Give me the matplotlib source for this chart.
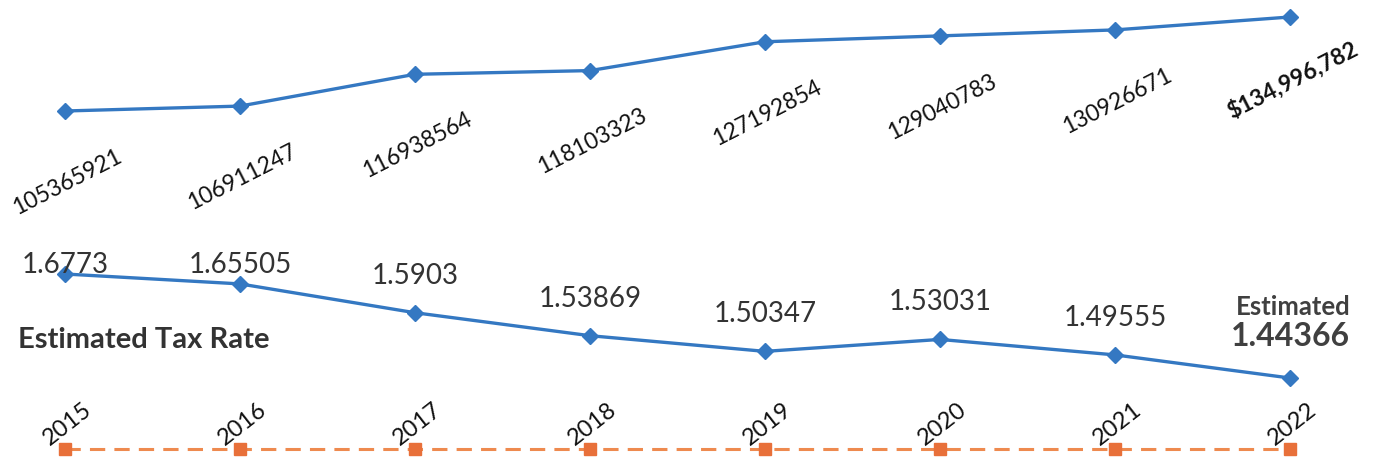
import matplotlib
matplotlib.use('Agg')
import matplotlib.pyplot as plt

plt.rcParams.update({'font.family': ['Lato', 'DejaVu Sans']})

# data
years = [2015, 2016, 2017, 2018, 2019, 2020, 2021, 2022]
assessed = [105365921, 106911247, 116938564, 118103323, 127192854, 129040783, 130926671, 134996782]
tax_rate = [1.6773, 1.65505, 1.5903, 1.53869, 1.50347, 1.53031, 1.49555, 1.44366]
tax_labels = ['1.6773', '1.65505', '1.5903', '1.53869', '1.50347', '1.53031', '1.49555', '1.44366']
base = [0, 0, 0, 0, 0, 0, 0, 0]

BLUE = '#3478c2'
ORANGE = '#ee8a4f'
W, H = 1380, 460

fig = plt.figure(figsize=(W/100, H/100), dpi=100)
x0, xw = 65/W, 1225/W
ax_top = fig.add_axes([x0, (H-112)/H, xw, 94/H])
ax_tax = fig.add_axes([x0, (H-379)/H, xw, 104/H])
ax_yr = fig.add_axes([x0, (H-455)/H, xw, 10/H])
for ax in (ax_top, ax_tax, ax_yr):
    ax.set_xlim(years[0], years[-1])
    ax.axis('off')
ax_top.set_ylim(min(assessed), max(assessed))
ax_tax.set_ylim(min(tax_rate), max(tax_rate))
ax_yr.set_ylim(-1, 1)

# assessed value line
ax_top.plot(years, assessed, color=BLUE, lw=2.4, marker='D', ms=8, clip_on=False)
for i, (x, v) in enumerate(zip(years, assessed)):
    last = i == len(years) - 1
    txt = f'${v:,}' if last else str(v)
    ax_top.annotate(txt, (x, v), xytext=(2, -62 if last else -70), textcoords='offset pixels',
                    ha='center', va='center', rotation=27, rotation_mode='anchor',
                    fontsize=16.5, color='#111111', fontweight='bold' if last else 'normal')

# tax rate line
ax_tax.plot(years, tax_rate, color=BLUE, lw=2.4, marker='D', ms=8, clip_on=False)
fig.canvas.draw()
cap = H - 265
for i, (x, v) in enumerate(zip(years, tax_rate)):
    if i == len(years) - 1:
        continue
    py = ax_tax.transData.transform((x, v))[1]
    dy = min(py + 38, cap) - py
    ax_tax.annotate(tax_labels[i], (x, v), xytext=(0, dy), textcoords='offset pixels',
                    ha='center', va='center', fontsize=20, color='#333333')
ax_tax.annotate('Estimated', (years[-1], tax_rate[-1]), xytext=(3, 72), textcoords='offset pixels',
                ha='center', va='center', fontsize=18.5, fontweight='bold', color='#404040')
ax_tax.annotate(tax_labels[-1], (years[-1], tax_rate[-1]), xytext=(0, 42), textcoords='offset pixels',
                ha='center', va='center', fontsize=23, fontweight='bold', color='#404040')
fig.text(18/W, 1 - 340/H, 'Estimated Tax Rate', ha='left', va='center',
         fontsize=21, fontweight='bold', color='#333333')

# year baseline
ax_yr.plot(years, base, color=ORANGE, lw=2.2, ls=(0, (5, 3)), marker='s', ms=9,
           mfc='#e8703a', mec='#e8703a', clip_on=False)
for x in years:
    ax_yr.annotate(str(x), (x, 0), xytext=(2, 26), textcoords='offset pixels',
                   ha='center', va='center', rotation=38, rotation_mode='anchor',
                   fontsize=17, color='#111111')

fig.savefig('out.png', dpi=100, facecolor='white')
